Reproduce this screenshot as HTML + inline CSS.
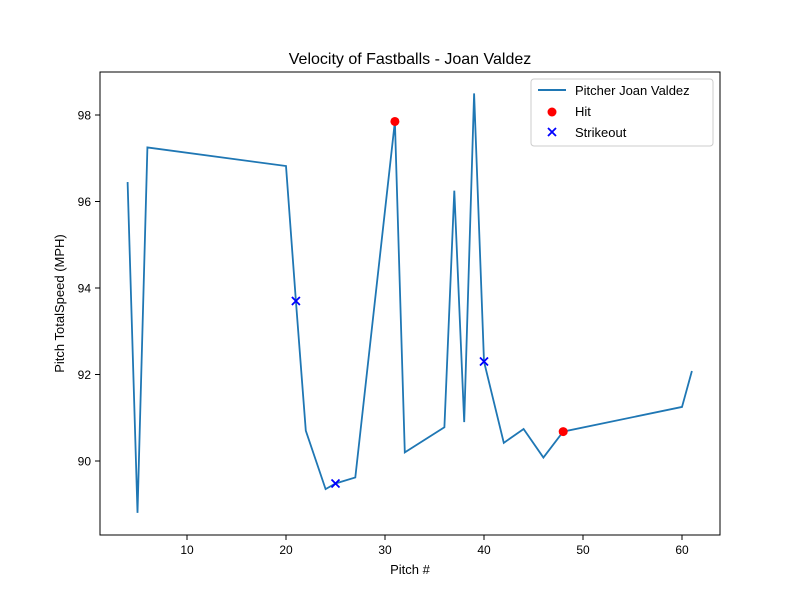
<!DOCTYPE html>
<html><head><meta charset="utf-8"><style>
body{margin:0;background:#fff}
svg text{font-family:"Liberation Sans","DejaVu Sans",sans-serif;fill:#000}
</style></head><body>
<svg id="chart" width="800" height="600" xmlns="http://www.w3.org/2000/svg">
<rect width="800" height="600" fill="#fff"/>
<text x="410" y="64" font-size="16" text-anchor="middle">Velocity of Fastballs - Joan Valdez</text>
<g id="ticks"></g>
<g id="plot"></g>
<rect x="100" y="72" width="620" height="463" fill="none" stroke="#000" stroke-width="1"/>
<text x="410" y="574" font-size="13" text-anchor="middle">Pitch #</text>
<text transform="translate(64,303.5) rotate(-90)" font-size="13" text-anchor="middle">Pitch TotalSpeed (MPH)</text>
<g>
<rect x="531" y="79" width="182" height="67" rx="3" fill="#fff" stroke="#ccc"/>
<line x1="538" y1="90" x2="566" y2="90" stroke="#1f77b4" stroke-width="2"/>
<text x="575" y="95" font-size="13">Pitcher Joan Valdez</text>
<circle cx="552" cy="112" r="4.5" fill="red"/>
<text x="575" y="116" font-size="13">Hit</text>
<path d="M548,128 l8,8 M556,128 l-8,8" stroke="blue" stroke-width="1.8"/>
<text x="575" y="137" font-size="13">Strikeout</text>
</g>
</svg>
<script>
const pitchNums=[4,5,6,20,21,22,24,25,27,31,32,36,37,38,39,40,42,44,46,48,60,61];
const speeds=[96.45,88.8,97.25,96.82,93.7,90.7,89.35,89.48,89.62,97.85,90.2,90.78,96.25,90.9,98.5,92.3,90.42,90.74,90.08,90.68,91.25,92.08];
const hitX=[31,48];
const hitY=[97.85,90.68];
const soX=[21,25,40];
const soY=[93.7,89.48,92.3];
const xTicks=[10,20,30,40,50,60];
const yTicks=[90,92,94,96,98];
const NS="http://www.w3.org/2000/svg";
const xs=v=>88+v*9.9;
const ys=v=>461-(v-90)*43.25;
const plot=document.getElementById('plot'),tk=document.getElementById('ticks');
function mk(t,a,p){const e=document.createElementNS(NS,t);for(const k in a)e.setAttribute(k,a[k]);p.appendChild(e);return e;}
xTicks.forEach(v=>{
 const l=mk('line',{x1:xs(v),x2:xs(v),y1:535,y2:540,stroke:'#000'},tk);
 
 
 const t=mk('text',{x:xs(v),y:554,'font-size':12,'text-anchor':'middle'},tk);t.textContent=v;
 
 
});
yTicks.forEach(v=>{
 const l=mk('line',{x1:95,x2:100,y1:ys(v),y2:ys(v),stroke:'#000'},tk);
 
 
 const t=mk('text',{x:91,y:ys(v)+4.5,'font-size':12,'text-anchor':'end'},tk);t.textContent=v;
 
 
});
const line=mk('polyline',{points:pitchNums.map((p,i)=>xs(p)+','+ys(speeds[i])).join(' '),fill:'none',stroke:'#1f77b4','stroke-width':1.8},plot);


hitX.forEach((p,i)=>{
 const c=mk('circle',{cx:xs(p),cy:ys(hitY[i]),r:4.5,fill:'red'},plot);
 
 
});
soX.forEach((p,i)=>{
 const x=xs(p),y=ys(soY[i]);
 const m=mk('path',{d:`M${x-4},${y-4} l8,8 M${x+4},${y-4} l-8,8`,stroke:'blue','stroke-width':1.8},plot);
 
 
});
</script>
</body></html>
